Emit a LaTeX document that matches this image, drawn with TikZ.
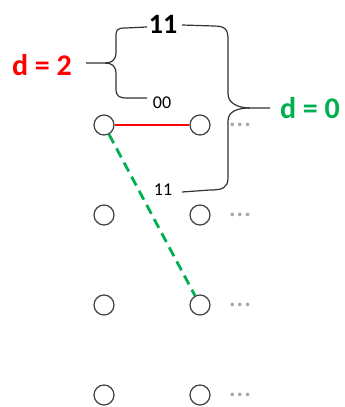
\documentclass[tikz,border=0pt]{standalone}
\usepackage{fontspec}
\setmainfont{Carlito}
\usepackage{xcolor}
\definecolor{dgreen}{RGB}{0,176,80}
\definecolor{dred}{RGB}{255,0,0}

\begin{document}
\begin{tikzpicture}[x=1pt,y=-1pt,
  state/.style={circle,draw=black!75,line width=1.2pt,minimum size=20pt,inner sep=0pt},
  more/.style={text=black!35,font=\fontsize{30}{30}\selectfont,inner sep=0pt},
  brace/.style={draw=black!80,line width=1.2pt},
  big/.style={font=\fontsize{30}{30}\selectfont\bfseries,inner sep=0pt},
  small/.style={font=\fontsize{18}{18}\selectfont,inner sep=0pt}]
\useasboundingbox (0,0) rectangle (345,407);
% trellis states
\foreach \r/\y in {1/125,2/215,3/305,4/395} {
  \node[state] (a\r) at (104,\y) {};
  \node[state] (b\r) at (200,\y) {};
  \node[more] (m\r) at (240,\y) {...};
}
% branches
\draw[dred,line width=1.2pt] (a1) -- (b1);
\draw[dgreen,line width=2.8pt,dash pattern=on 10pt off 6pt] (a1) -- (b3);
% labels
\node[big,font=\fontsize{28}{28}\selectfont\bfseries] (top) at (163,24) {11};
\node[small] (zz) at (162,103) {00};
\node[small] (oo) at (163,190) {11};
\node[big,text=dred] (d2) at (42,65) {d = 2};
\node[big,text=dgreen] (d0) at (310,108) {d = 0};
% braces
\coordinate (ltip) at (86,63);
\coordinate (rtip) at (270,108);
\draw[brace] (147,27) -- (126,28) .. controls (116,28) and (116,30) .. (116,38)
  -- (116,52) .. controls (116,60) and (112,63) .. (105,63) -- (ltip);
\draw[brace] (105,63) .. controls (112,63) and (116,66) .. (116,74) -- (116,89)
  .. controls (116,97) and (120,98) .. (128,98) -- (147,98);
\draw[brace] (182,25) -- (214,26) .. controls (226,26) and (228,30) .. (228,40)
  -- (228,94) .. controls (228,103) and (238,108) .. (250,108) -- (rtip);
\draw[brace] (250,108) .. controls (238,108) and (228,111) .. (228,121) -- (228,178)
  .. controls (228,188) and (222,190) .. (210,190) -- (182,192);
\end{tikzpicture}
\end{document}
